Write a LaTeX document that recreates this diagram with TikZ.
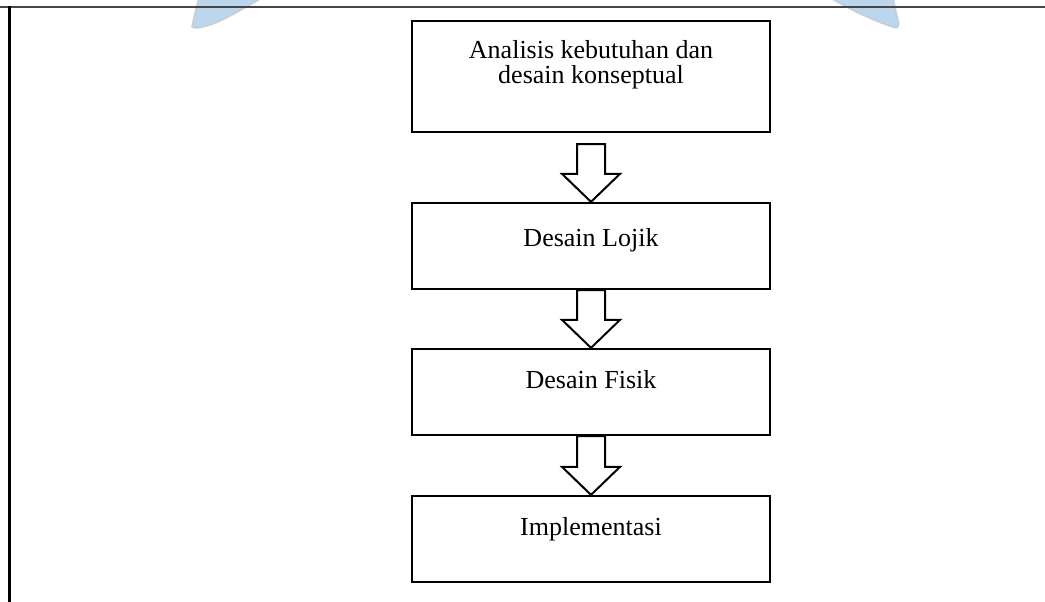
\documentclass[tikz,border=0pt]{standalone}
\usepackage{fontspec}
\setmainfont{Liberation Serif}
\usetikzlibrary{calc}
\definecolor{leafblue}{RGB}{176,208,234}
\definecolor{leafedge}{RGB}{196,202,210}
\definecolor{rulegray}{RGB}{70,70,70}
\tikzset{
  stagebox/.style={draw=black, line width=2.3pt, fill=white, rectangle,
    minimum width=358pt, inner sep=0pt},
  stagetext/.style={anchor=base, inner sep=0pt, font=\fontsize{26pt}{25pt}\selectfont},
  arrowline/.style={draw=black, line width=2pt, fill=white, line join=miter},
  leaf/.style={fill=leafblue, draw=leafedge, line width=1.5pt, opacity=0.85}
}
% hollow block arrow from box #1 down to box #2, shaft starting #3 below #1
\newcommand\flowarrow[3]{%
  \draw[arrowline]
    ($(#1.south)+(-14,#3)$) -- ($(#2.north)+(-14,-28)$) --
    ($(#2.north)+(-29,-28)$) -- (#2.north) --
    ($(#2.north)+(29,-28)$) -- ($(#2.north)+(14,-28)$) --
    ($(#1.south)+(14,#3)$) -- cycle;}
\begin{document}
\begin{tikzpicture}[x=1pt, y=-1pt]
  \useasboundingbox (0,0) rectangle (1045,602);

  % faint decorative leaves behind the header rule
  \path[leaf] (199,-3) .. controls (196,10) and (193,20) .. (192,27)
     .. controls (197,30) and (214,25) .. (232,15)
     .. controls (246,7) and (256,2) .. (263,-3) -- cycle;
  \path[leaf] (829,-3) .. controls (850,10) and (876,22) .. (896,28)
     .. controls (900,27) and (899,22) .. (897,16)
     .. controls (895,8) and (894,2) .. (893,-3) -- cycle;

  % page frame: header rule and left margin rule
  \draw[rulegray, line width=2pt] (0,7.5) -- (1045,7.5);
  \draw[black, line width=3pt] (9,6.5) -- (9,602);

  % stages
  \node[stagebox, minimum height=111pt] (s1) at (591,76.5) {};
  \node[stagebox, minimum height=86pt]  (s2) at (591,246) {};
  \node[stagebox, minimum height=86pt]  (s3) at (591,392) {};
  \node[stagebox, minimum height=86pt]  (s4) at (591,539) {};

  \node[stagetext] (t1a) at (591,59) {Analisis kebutuhan dan};
  \node[stagetext] (t1b) at (591,84) {desain konseptual};
  \node[stagetext] (t2) at ($(s2.north)+(0,45)$) {Desain Lojik};
  \node[stagetext] (t3) at ($(s3.north)+(0,41)$) {Desain Fisik};
  \node[stagetext] (t4) at ($(s4.north)+(0,41)$) {Implementasi};

  % arrows between stages
  \flowarrow{s1}{s2}{11}
  \flowarrow{s2}{s3}{0}
  \flowarrow{s3}{s4}{0}
\end{tikzpicture}
\end{document}
